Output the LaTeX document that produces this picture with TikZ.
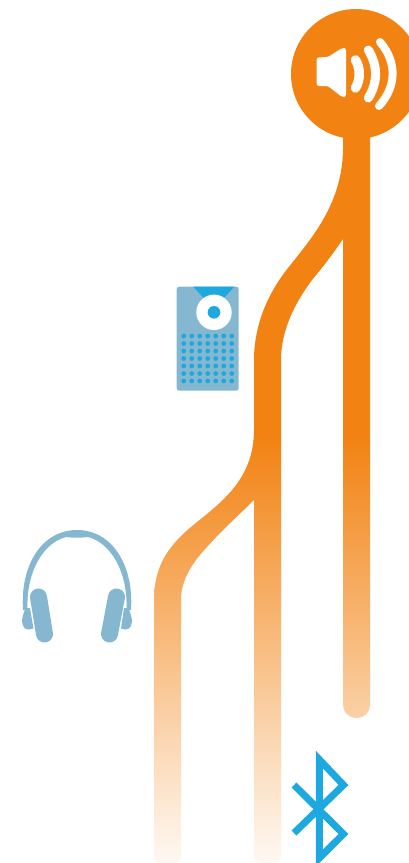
\documentclass[tikz,border=0pt]{standalone}
\usepackage{xcolor}
\definecolor{bandorange}{HTML}{F28313}
\definecolor{iconblue}{HTML}{1EA8E0}
\definecolor{iconpale}{HTML}{85B8D0}
\tikzset{
  wave/.style={line width=#1, line cap=round, white},
  pad/.style={line width=17pt, line cap=round, iconpale},
  radiodot/.style={fill=iconblue}
}
\begin{document}
\begin{tikzpicture}[x=1pt, y=-1pt]
  \useasboundingbox (0,0) rectangle (409,863);
  \clip (0,0) rectangle (409,863);

  % Bands
  \begin{scope}
    \clip (343,130) -- (370,130)
      [rounded corners=13pt] -- (370,718) -- (343,718) [sharp corners] -- (343,239)
      .. controls (330,258) and (322,268) .. (312,280)
      .. controls (295,303) and (281,330) .. (281,360)
      [rounded corners=5pt] -- (281,863) -- (254,863) [sharp corners] -- (254,500)
      .. controls (240,514) and (222,530) .. (207,547)
      .. controls (192,563) and (181,580) .. (181,600)
      [rounded corners=5pt] -- (181,863) -- (154,863) [sharp corners] -- (154,600)
      .. controls (154,570) and (165,552) .. (182,535)
      .. controls (208,510) and (254,488) .. (254,430)
      -- (254,360)
      .. controls (254,320) and (272,288) .. (288,268)
      .. controls (310,240) and (342,205) .. (343,150)
      -- cycle;
    \fill[bandorange] (140,120) rectangle (380,441);
    \shade[top color=bandorange, bottom color=bandorange!5] (140,440) rectangle (380,863);
  \end{scope}

  % Speaker
  \fill[bandorange] (356,74) circle (65);
  \fill[white, rounded corners=2.5pt] (316.5,57.5) -- (328,57) -- (342,48) -- (346,48)
    -- (346,97) -- (342,97) -- (328,86) -- (316.5,86) -- cycle;
  \draw[wave=9.5pt] (355.5,60) .. controls (360.5,68) and (360.5,80) .. (355.5,88);
  \draw[wave=9pt] (368.3,50) .. controls (378,66) and (378,82) .. (368.3,98);
  \draw[wave=8pt] (380,42) .. controls (397,62) and (397,86) .. (379,106);

  % Radio
  \fill[iconpale, rounded corners=2.5pt] (176.7,286.7) rectangle (238.7,390.7);
  \fill[iconblue] (193.3,286.7) -- (234.3,286.7) -- (214,309) -- cycle;
  \fill[white] (214,312.3) circle (17.7);
  \fill[iconblue] (214,312.3) circle (6.3);
  \foreach \i in {0,...,6} {
    \foreach \j in {0,...,6} {
      \fill[radiodot] ({183.7+8*\i},{336+7.5*\j}) circle (2.4);
    }
  }

  % Headphones
  \fill[iconpale] (23,610)
    .. controls (20,565) and (42,530) .. (77,530)
    .. controls (112,530) and (134,565) .. (131,610)
    -- (126.5,610)
    .. controls (128,572) and (111,543) .. (88,537)
    .. controls (80,538) and (74,538) .. (66,537)
    .. controls (43,543) and (26,572) .. (27.5,610) -- cycle;
  \draw[pad] (38.5,597) -- (44.5,634);
  \draw[pad] (116.5,597) -- (109.5,634);
  \fill[iconpale] (26,608) .. controls (20,618) and (21,630) .. (29,629.5)
    -- (33.5,628.5) -- (30,608) -- cycle;
  \fill[iconpale] (128,608) .. controls (134,618) and (133,630) .. (125,629.5)
    -- (121,628.5) -- (124,608) -- cycle;

  % Bluetooth
  \draw[iconblue, line width=7pt, miter limit=10]
    (294,785) -- (343.5,834) -- (319.3,858) -- (319.3,759.5) -- (343.5,785) -- (294,833);
\end{tikzpicture}
\end{document}
